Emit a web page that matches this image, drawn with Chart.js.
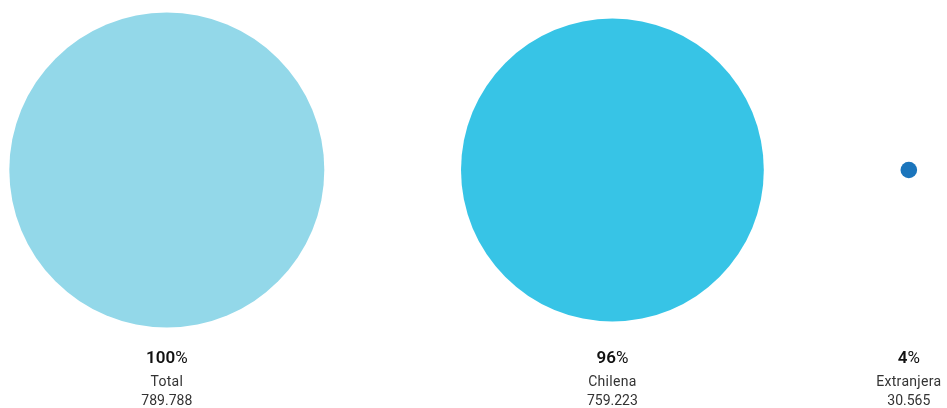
<!DOCTYPE html>
<html>
<head>
<meta charset="utf-8">
<script src="https://cdn.jsdelivr.net/npm/chart.js@4.4.1/dist/chart.umd.min.js"></script>
<style>
  html, body { margin: 0; padding: 0; background: #fff; }
  #wrap { width: 947px; height: 408px; }
</style>
</head>
<body>
<div id="wrap"><canvas id="c"></canvas></div>
<script>
// Population by nationality
const categories = ['Total', 'Chilena', 'Extranjera'];
const counts = [789788, 759223, 30565];
const colors = ['#93D8E9', '#37C4E6', '#1B75BC'];

// Bubble sizing and spacing (pixels)
const MAX_R = 157.5;   // radius of the total bubble
const MIN_R = 8.3;     // smallest radius drawn
const GAP = 136.7;     // space between neighbouring bubbles
const LEFT = 9.3;      // left edge of first bubble

const total = counts[0];
const radii = counts.map(v => Math.max(MIN_R, MAX_R * v / total));

// Place bubbles side by side with a constant gap between edges
const centers = [];
let edge = LEFT;
radii.forEach(r => { centers.push(edge + r); edge += 2 * r + GAP; });

const points = counts.map((v, i) => ({ x: centers[i], y: 0, r: radii[i] }));

function fmt(n) {
  return String(n).replace(/\B(?=(\d{3})+(?!\d))/g, '.');
}

const labelPlugin = {
  id: 'bubbleLabels',
  afterDatasetsDraw(chart) {
    const ctx = chart.ctx;
    const meta = chart.getDatasetMeta(0);
    const fam = 'Roboto, "Noto Sans", sans-serif';
    meta.data.forEach((el, i) => {
      const cx = el.x;
      const pct = Math.round(counts[i] / total * 100);
      ctx.save();
      ctx.textBaseline = 'alphabetic';
      // percentage: bold number, regular % sign
      const num = String(pct);
      ctx.font = '600 17px ' + fam;
      const wNum = ctx.measureText(num).width;
      ctx.font = '400 17px ' + fam;
      const wPct = ctx.measureText('%').width;
      const start = cx - (wNum + wPct) / 2;
      ctx.fillStyle = '#111';
      ctx.textAlign = 'left';
      ctx.font = '600 17px ' + fam;
      ctx.fillText(num, start, 362.5);
      ctx.font = '400 17px ' + fam;
      ctx.fillText('%', start + wNum, 362.5);
      // category name and count
      ctx.textAlign = 'center';
      ctx.fillStyle = '#333';
      ctx.font = '400 14px ' + fam;
      ctx.letterSpacing = '0.3px';
      ctx.fillText(categories[i], cx, 386);
      ctx.letterSpacing = '0px';
      ctx.fillText(fmt(counts[i]), cx, 405);
      ctx.restore();
    });
  }
};

new Chart(document.getElementById('c'), {
  type: 'bubble',
  data: {
    labels: categories,
    datasets: [{
      data: points,
      backgroundColor: colors,
      borderWidth: 0,
      hoverBorderWidth: 0,
      clip: false
    }]
  },
  options: {
    responsive: true,
    maintainAspectRatio: false,
    animation: false,
    layout: { autoPadding: false, padding: { top: 12, bottom: 80, left: 0, right: 0 } },
    scales: {
      x: { type: 'linear', min: 0, max: 947, display: false },
      y: { type: 'linear', min: -1, max: 1, display: false }
    },
    plugins: {
      legend: { display: false },
      tooltip: { enabled: false }
    }
  },
  plugins: [labelPlugin]
});
</script>
</body>
</html>
